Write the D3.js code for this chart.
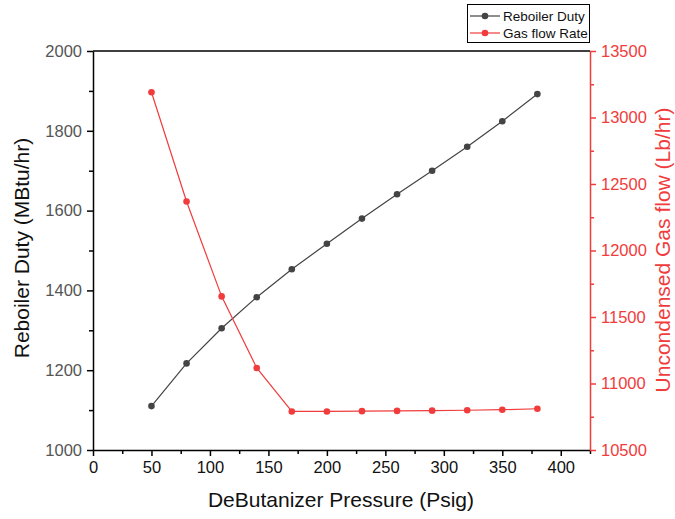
<!DOCTYPE html>
<html>
<head>
<meta charset="utf-8">
<script src="https://cdn.jsdelivr.net/npm/d3@7"></script>
<style>
body { margin: 0; background: #fff; }
text { font-family: "Liberation Sans", Arial, sans-serif; }
</style>
</head>
<body>
<script>
var CANVAS_WIDTH = 675;
var CANVAS_HEIGHT = 519;

// data
var pressure = [50, 80, 110, 140, 170, 200, 230, 260, 290, 320, 350, 380];
var reboilerDuty = [1110, 1217, 1305, 1383, 1453, 1517, 1580, 1641, 1700, 1760, 1824, 1892];
var gasFlow = [13190, 12368, 11655, 11117, 10790, 10790, 10792, 10794, 10796, 10799, 10803, 10810];
var xTicks = [0, 50, 100, 150, 200, 250, 300, 350, 400];
var leftTicks = [1000, 1200, 1400, 1600, 1800, 2000];
var rightTicks = [10500, 11000, 11500, 12000, 12500, 13000, 13500];

var BLACK = "#444444";
var RED = "#f03c3c";

var plot = {left: 93, right: 590, top: 51, bottom: 450};

var svg = d3.select("body")
    .append("svg")
    .attr("width", CANVAS_WIDTH)
    .attr("height", CANVAS_HEIGHT);

var x = d3.scaleLinear().domain([0, 425]).range([plot.left, plot.right]);
var yLeft = d3.scaleLinear().domain([1000, 2000]).range([plot.bottom, plot.top]);
var yRight = d3.scaleLinear().domain([10500, 13500]).range([plot.bottom, plot.top]);

// top frame line
svg.append("line")
    .attr("x1", plot.left).attr("x2", plot.right)
    .attr("y1", plot.top).attr("y2", plot.top)
    .attr("stroke", "#000").attr("stroke-width", 1.5);

function styleAxis(g, color, labelColor) {
    g.selectAll("path").attr("stroke", color).attr("stroke-width", 1.5);
    g.selectAll("line").attr("stroke", color).attr("stroke-width", 1.5);
    g.selectAll("text")
        .attr("fill", labelColor)
        .style("font-family", "'Liberation Sans', Arial, sans-serif")
        .style("font-size", "16.5px");
}

// minor ticks halfway between majors
function minorTicks(ticks) {
    var out = [];
    for (var i = 0; i < ticks.length - 1; i++) out.push((ticks[i] + ticks[i + 1]) / 2);
    return out;
}

var fmt = d3.format("d");

// x axis
var gxMinor = svg.append("g")
    .attr("transform", "translate(0," + plot.bottom + ")")
    .call(d3.axisBottom(x).tickValues(minorTicks(xTicks).concat([425])).tickSize(4).tickFormat(""));
styleAxis(gxMinor, "#000", "#000");
gxMinor.select(".domain").remove();
var gx = svg.append("g")
    .attr("transform", "translate(0," + plot.bottom + ")")
    .call(d3.axisBottom(x).tickValues(xTicks).tickSize(6).tickSizeOuter(0).tickPadding(5).tickFormat(fmt));
styleAxis(gx, "#000", "#111");

// left axis
var glMinor = svg.append("g")
    .attr("transform", "translate(" + plot.left + ",0)")
    .call(d3.axisLeft(yLeft).tickValues(minorTicks(leftTicks)).tickSize(4).tickFormat(""));
styleAxis(glMinor, "#000", "#000");
glMinor.select(".domain").remove();
var gl = svg.append("g")
    .attr("transform", "translate(" + plot.left + ",0)")
    .call(d3.axisLeft(yLeft).tickValues(leftTicks).tickSize(6).tickSizeOuter(0).tickPadding(5).tickFormat(fmt));
styleAxis(gl, "#000", "#555");

// right axis
var grMinor = svg.append("g")
    .attr("transform", "translate(" + plot.right + ",0)")
    .call(d3.axisRight(yRight).tickValues(minorTicks(rightTicks)).tickSize(4).tickFormat(""));
styleAxis(grMinor, RED, RED);
grMinor.select(".domain").remove();
var gr = svg.append("g")
    .attr("transform", "translate(" + plot.right + ",0)")
    .call(d3.axisRight(yRight).tickValues(rightTicks).tickSize(6).tickSizeOuter(0).tickPadding(5).tickFormat(fmt));
styleAxis(gr, RED, RED);

// axis titles
svg.append("text")
    .attr("x", 341)
    .attr("y", 507)
    .attr("text-anchor", "middle")
    .attr("font-size", "21px")
    .attr("fill", "#111")
    .text("DeButanizer Pressure (Psig)");

svg.append("text")
    .attr("transform", "translate(29,248) rotate(-90)")
    .attr("text-anchor", "middle")
    .attr("font-size", "21px")
    .attr("fill", "#111")
    .text("Reboiler Duty (MBtu/hr)");

svg.append("text")
    .attr("transform", "translate(670,250) rotate(-90)")
    .attr("text-anchor", "middle")
    .attr("font-size", "21px")
    .attr("fill", RED)
    .text("Uncondensed Gas flow (Lb/hr)");

// series
function drawSeries(values, yScale, color) {
    var pts = pressure.map(function(p, i) { return [p, values[i]]; });
    var line = d3.line()
        .x(function(d) { return x(d[0]); })
        .y(function(d) { return yScale(d[1]); });
    svg.append("path")
        .datum(pts)
        .attr("d", line)
        .attr("fill", "none")
        .attr("stroke", color)
        .attr("stroke-width", 1.2);
    svg.selectAll(null)
        .data(pts)
        .enter()
        .append("circle")
        .attr("cx", function(d) { return x(d[0]); })
        .attr("cy", function(d) { return yScale(d[1]); })
        .attr("r", 3.3)
        .attr("fill", color);
}

drawSeries(reboilerDuty, yLeft, BLACK);
drawSeries(gasFlow, yRight, RED);

// legend
var legend = svg.append("g");
legend.append("rect")
    .attr("x", 467.5).attr("y", 4.5)
    .attr("width", 122).attr("height", 38)
    .attr("fill", "#fff")
    .attr("stroke", "#000")
    .attr("stroke-width", 1);
var legendItems = [["Reboiler Duty", BLACK], ["Gas flow Rate", RED]];
legendItems.forEach(function(item, i) {
    var yy = 16 + i * 17;
    legend.append("line")
        .attr("x1", 470).attr("x2", 500)
        .attr("y1", yy).attr("y2", yy)
        .attr("stroke", item[1]).attr("stroke-width", 1.2);
    legend.append("circle")
        .attr("cx", 485).attr("cy", yy).attr("r", 3.3)
        .attr("fill", item[1]);
    legend.append("text")
        .attr("x", 503).attr("y", yy)
        .attr("dy", ".35em")
        .attr("font-size", "13.5px")
        .attr("fill", "#111")
        .text(item[0]);
});
</script>
</body>
</html>
